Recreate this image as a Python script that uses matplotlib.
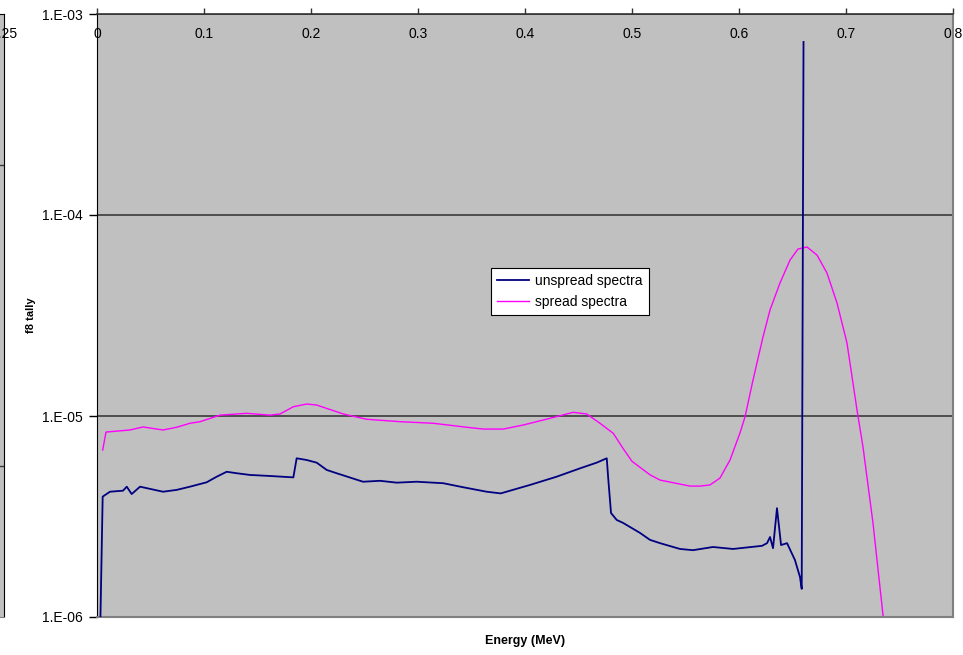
import numpy as np
import matplotlib
matplotlib.use("Agg")
import matplotlib.pyplot as plt
from matplotlib.ticker import FixedLocator, NullLocator

plt.rcParams['font.family'] = ['Liberation Sans', 'DejaVu Sans']

# --- datos ---
# espectro sin ensanchar (unspread)
energia_unspread = [0.0028, 0.0053, 0.0121, 0.0243, 0.0278, 0.0324, 0.0402, 0.0617,
                    0.0745, 0.0869, 0.1025, 0.1119, 0.1212, 0.1306, 0.143, 0.1617,
                    0.1835, 0.1866, 0.196, 0.2053, 0.2147, 0.224, 0.2486, 0.2645,
                    0.2801, 0.2988, 0.3236, 0.3423, 0.3642, 0.3773, 0.386, 0.4047,
                    0.4296, 0.4514, 0.467, 0.4764, 0.4779, 0.4804, 0.4857, 0.4916,
                    0.5075, 0.5168, 0.5262, 0.5449, 0.557, 0.5757, 0.5944, 0.6215,
                    0.6262, 0.629, 0.6318, 0.6355, 0.6393, 0.6449, 0.6523, 0.657,
                    0.6586, 0.6603]
tally_unspread = [7.5e-7, 3.97e-6, 4.20e-6, 4.25e-6, 4.45e-6, 4.09e-6, 4.45e-6, 4.20e-6,
                  4.29e-6, 4.45e-6, 4.68e-6, 4.99e-6, 5.28e-6, 5.19e-6, 5.09e-6, 5.03e-6,
                  4.95e-6, 6.16e-6, 6.04e-6, 5.86e-6, 5.39e-6, 5.19e-6, 4.71e-6, 4.76e-6,
                  4.66e-6, 4.71e-6, 4.63e-6, 4.42e-6, 4.20e-6, 4.12e-6, 4.25e-6, 4.54e-6,
                  4.99e-6, 5.49e-6, 5.86e-6, 6.16e-6, 4.80e-6, 3.29e-6, 3.04e-6, 2.94e-6,
                  2.62e-6, 2.42e-6, 2.33e-6, 2.18e-6, 2.15e-6, 2.23e-6, 2.18e-6, 2.26e-6,
                  2.33e-6, 2.50e-6, 2.20e-6, 3.48e-6, 2.28e-6, 2.33e-6, 1.92e-6, 1.58e-6,
                  1.38e-6, 7.26e-4]

# espectro ensanchado (spread)
energia_spread = [0.0053, 0.0084, 0.0308, 0.043, 0.0617, 0.0745, 0.0869, 0.0963,
                  0.115, 0.1399, 0.1617, 0.171, 0.1835, 0.196, 0.2053, 0.2302,
                  0.2521, 0.2832, 0.3143, 0.3455, 0.361, 0.3797, 0.3984, 0.4234,
                  0.4451, 0.4577, 0.4701, 0.4825, 0.4916, 0.5, 0.5168, 0.5262,
                  0.5542, 0.5636, 0.5729, 0.5822, 0.5916, 0.6009, 0.6056, 0.6131,
                  0.6224, 0.629, 0.6383, 0.6477, 0.6551, 0.6636, 0.6729, 0.6822,
                  0.6916, 0.7009, 0.7103, 0.7159, 0.7252, 0.7346, 0.7364]
tally_spread = [6.77e-6, 8.32e-6, 8.52e-6, 8.82e-6, 8.52e-6, 8.79e-6, 9.20e-6, 9.37e-6,
                1.01e-5, 1.031e-5, 1.01e-5, 1.023e-5, 1.112e-5, 1.147e-5, 1.134e-5, 1.023e-5,
                9.63e-6, 9.37e-6, 9.20e-6, 8.79e-6, 8.61e-6, 8.61e-6, 9.02e-6, 9.74e-6,
                1.043e-5, 1.023e-5, 9.20e-6, 8.20e-6, 6.90e-6, 5.95e-6, 5.10e-6, 4.80e-6,
                4.48e-6, 4.48e-6, 4.54e-6, 4.91e-6, 6.04e-6, 8.23e-6, 9.89e-6, 1.51e-5,
                2.47e-5, 3.37e-5, 4.59e-5, 5.97e-5, 6.77e-5, 6.93e-5, 6.32e-5, 5.15e-5,
                3.65e-5, 2.31e-5, 1.07e-5, 7.01e-6, 2.94e-6, 1.02e-6, 7.7e-7]

x_ticks = [0, 0.1, 0.2, 0.3, 0.4, 0.5, 0.6, 0.7, 0.8]
x_tick_labels = ['0', '0.1', '0.2', '0.3', '0.4', '0.5', '0.6', '0.7', '0.8']
y_ticks = [1e-6, 1e-5, 1e-4, 1e-3]
y_tick_labels = ['1.E-06', '1.E-05', '1.E-04', '1.E-03']

W, H = 963, 655
fig = plt.figure(figsize=(W / 100, H / 100), dpi=100)

# --- resto de otro grafico a la izquierda ---
ax_izq = fig.add_axes([-40 / W, 38 / H, 44 / W, 603 / H])
ax_izq.set_facecolor('#C0C0C0')
ax_izq.set_xlim(0, 1)
ax_izq.set_ylim(0, 1)
ax_izq.set_xticks([])
ax_izq.set_yticks([0.25, 0.75])
ax_izq.tick_params(axis='y', length=0, labelleft=False)
ax_izq.grid(axis='y', color='#3a3a3a', linewidth=1)
for lado in ['left', 'right', 'top']:
    ax_izq.spines[lado].set_color('black')
ax_izq.spines['bottom'].set_color('#808080')
fig.text(18 / W, 1 - 34 / H, '0.25', ha='right', va='center', fontsize=10)

# --- grafico principal ---
ax = fig.add_axes([97 / W, 38 / H, 856 / W, 603 / H])
ax.set_facecolor('#C0C0C0')

ax.plot(energia_spread, tally_spread, color='#FF00FF', linewidth=1.0,
        label='spread spectra', zorder=2)
ax.plot(energia_unspread, tally_unspread, color='#000080', linewidth=1.3,
        label='unspread spectra', zorder=3)

ax.set_yscale('log')
ax.set_ylim(1e-6, 1e-3)
ax.set_xlim(0, 0.8)

ax.yaxis.set_major_locator(FixedLocator(y_ticks))
ax.yaxis.set_minor_locator(NullLocator())
ax.set_yticklabels(y_tick_labels)
ax.tick_params(axis='y', direction='out', length=6, width=1, color='black',
               labelsize=10, pad=4)

ax.xaxis.set_ticks_position('top')
ax.set_xticks(x_ticks)
ax.set_xticklabels(x_tick_labels)
ax.tick_params(axis='x', direction='out', length=4, width=1, color='#333333',
               top=True, bottom=False, labeltop=True, labelbottom=False,
               labelsize=10, pad=-23.5)

ax.grid(axis='y', which='major', color='#3a3a3a', linewidth=1.2)
ax.set_axisbelow(True)

ax.spines['left'].set_color('black')
ax.spines['top'].set_color('#333333')
ax.spines['top'].set_linewidth(1.2)
ax.spines['bottom'].set_color('#808080')
ax.spines['bottom'].set_linewidth(1.5)
ax.spines['right'].set_color('#808080')
ax.spines['right'].set_linewidth(1.5)

fig.text(525 / W, 1 - 641 / H, 'Energy (MeV)', ha='center', va='center',
         fontsize=9, fontweight='bold')
fig.text(31 / W, 1 - 315 / H, 'f8 tally', ha='center', va='center',
         fontsize=8, fontweight='bold', rotation=90)

manejadores, etiquetas = ax.get_legend_handles_labels()
leyenda = ax.legend(manejadores[::-1], etiquetas[::-1], loc='upper left',
                    bbox_to_anchor=((491 - 97) / 856, (617 - 268) / 603),
                    borderaxespad=0, frameon=True, fancybox=False,
                    edgecolor='black', facecolor='white', framealpha=1,
                    fontsize=10, handlelength=2.3, handletextpad=0.4,
                    labelspacing=0.5, borderpad=0.45)
leyenda.get_frame().set_linewidth(0.8)

fig.savefig('out.png', dpi=100, facecolor='white')
